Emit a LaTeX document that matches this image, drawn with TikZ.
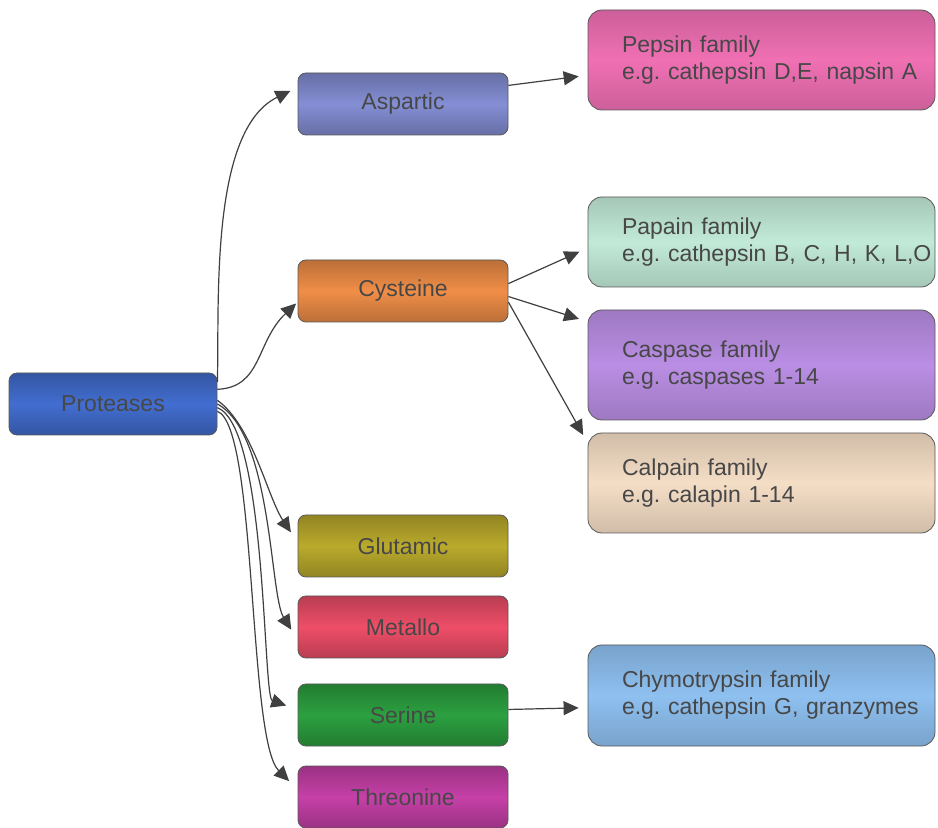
\documentclass[tikz,border=0pt]{standalone}
\usepackage{fontspec}
\setmainfont{Liberation Sans}
\usetikzlibrary{arrows.meta}
\definecolor{protblue}{RGB}{66,110,208}
\definecolor{aspblue}{RGB}{132,142,212}
\definecolor{cysorange}{RGB}{240,142,72}
\definecolor{gluolive}{RGB}{186,170,44}
\definecolor{metred}{RGB}{238,78,104}
\definecolor{sergreen}{RGB}{44,160,64}
\definecolor{thrmagenta}{RGB}{198,64,168}
\definecolor{peppink}{RGB}{240,112,180}
\definecolor{papmint}{RGB}{194,234,216}
\definecolor{caspurple}{RGB}{186,142,228}
\definecolor{calpeach}{RGB}{245,222,198}
\definecolor{chyblue}{RGB}{142,192,240}
\definecolor{linegrey}{RGB}{64,64,64}
\frenchspacing

\begin{document}
\begin{tikzpicture}[x=0.5pt,y=-0.5pt,
    font=\fontsize{11.5}{13.5}\selectfont, text=black!72,
    grp/.style={draw=black!65,rounded corners=4pt,top color=#1!78!black,bottom color=#1!78!black,middle color=#1,
                minimum width=105pt,minimum height=31pt,inner sep=2pt},
    fam/.style={draw=black!65,rounded corners=7pt,top color=#1!85!black,bottom color=#1!85!black,middle color=#1,
                text width=171.5pt,inner xsep=1pt,align=left,execute at begin node={\leftskip=16pt\relax}},
    arr/.style={-{Triangle[length=7.5pt,width=7pt]},linegrey,line width=0.6pt}]
\path[use as bounding box,fill=white] (0,0) rectangle (938,828);

% protease classes
\node[grp=protblue,minimum width=104pt] (pro) at (113,404) {Proteases};
\node[grp=aspblue] (asp) at (403,104) {Aspartic};
\node[grp=cysorange] (cys) at (403,291) {Cysteine};
\node[grp=gluolive] (glu) at (403,546) {Glutamic};
\node[grp=metred] (met) at (403,627) {Metallo};
\node[grp=sergreen] (ser) at (403,715) {Serine};
\node[grp=thrmagenta] (thr) at (403,797) {Threonine};

% families
\node[fam=peppink,minimum height=50pt] (pep) at (761.5,60) {Pepsin family\\e.g. cathepsin D,E, napsin A};
\node[fam=papmint,minimum height=45pt] (pap) at (761.5,242) {Papain family\\e.g. cathepsin B, C, H, K, L,O};
\node[fam=caspurple,minimum height=55pt] (casp) at (761.5,365) {Caspase family\\e.g. caspases 1-14};
\node[fam=calpeach,minimum height=50pt] (cal) at (761.5,483) {Calpain family\\e.g. calapin 1-14};
\node[fam=chyblue,minimum height=50.5pt] (chy) at (761.5,695.5) {Chymotrypsin family\\e.g. cathepsin G, granzymes};

% from proteases
\draw[arr,shorten >=4pt] (pro.12) .. controls +(2,-80) and +(-88,43) .. (asp.171);
\draw[arr,shorten >=1pt] (pro.8) .. controls +(45,-2) and +(-42,40) .. (cys.186);
\draw[arr,shorten >=6pt] (pro.2) .. controls +(35,25) and +(-30,-45) .. (glu.178);
\draw[arr,shorten >=6pt] (pro.0) .. controls +(55,30) and +(-28,-45) .. (met.187);
\draw[arr,shorten >=6pt] (pro.-2) .. controls +(50,20) and +(-35,-12) .. (ser.177);
\draw[arr,shorten >=6pt] (pro.-4) .. controls +(40,15) and +(-50,-50) .. (thr.176);

% to families
\draw[arr,shorten >=4.5pt] (asp.10) -- (pep.185);
\draw[arr,shorten >=4.5pt] (cys.4) -- (pap.182);
\draw[arr,shorten >=4.5pt] (cys.-3) -- (casp.166);
\draw[arr,shorten >=4.5pt] (cys.-6) -- (cal.167);
\draw[arr,shorten >=4.5pt] (ser.3) -- (chy.184);
\end{tikzpicture}
\end{document}
